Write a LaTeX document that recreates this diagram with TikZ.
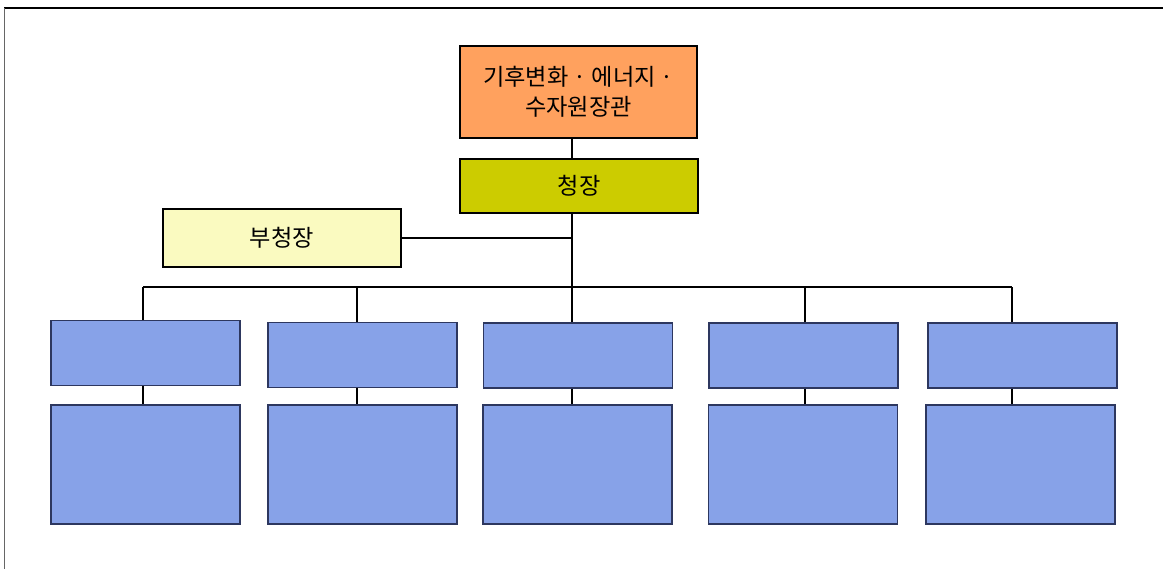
\documentclass[tikz,border=0pt]{standalone}
\usepackage{fontspec}
\usepackage{xcolor}
\usepackage{tikz}
\usetikzlibrary{positioning,calc}
\newfontfamily\kofont{Noto Sans CJK KR}
\definecolor{ministerorange}{RGB}{255,161,94}
\definecolor{chiefolive}{RGB}{204,204,0}
\definecolor{deputyyellow}{RGB}{250,250,192}
\definecolor{unitblue}{RGB}{135,162,232}
\definecolor{unitedge}{RGB}{45,55,95}

\begin{document}
\begin{tikzpicture}[
    x=0.02cm, y=-0.02cm,
    obox/.style={rectangle, draw, line width=0.7pt, font=\kofont\fontsize{13.2}{17}\selectfont, align=center},
    ubox/.style={obox, fill=unitblue, draw=unitedge, minimum width=3.78cm},
    link/.style={line width=0.8pt}
]
\useasboundingbox (0,0) rectangle (1163,569);
% page frame
\draw[line width=0.9pt] (4,8) -- (1163,8);
\draw[gray!80!black, line width=0.9pt] (4.5,8) -- (4.5,569);

\node[obox, fill=ministerorange, minimum width=4.74cm, minimum height=1.84cm] (minister) at (578.5,92) {기후변화 · 에너지 ·\\수자원장관};
\node[obox, fill=chiefolive, minimum width=4.76cm, minimum height=1.08cm] (chief) at (579,186) {청장};
\node[obox, fill=deputyyellow, minimum width=4.76cm, minimum height=1.16cm] (deputy) at (282,238) {부청장};

\coordinate (spine) at (572,287);
\draw[link] (spine |- minister.south) -- (spine |- chief.north);
\draw[link] (spine |- chief.south) -- (spine);
\draw[link] (deputy.east) -- (deputy.east -| spine);

% units and their sub boxes
\foreach \i/\ax/\ay/\bx/\dx in {1/145.5/353/145.5/143, 2/362.5/355/362.5/357, 3/578/355.5/577.5/572, 4/803.5/355.5/803/805, 5/1022.5/355.5/1020.5/1012}{
    \node[ubox, minimum height=1.30cm] (unit\i) at (\ax,\ay) {};
    \node[ubox, minimum height=2.38cm] (sub\i) at (\bx,464.5) {};
    \coordinate (bus\i) at (\dx,287);
    \draw[link] (bus\i) -- (bus\i |- unit\i.north);
    \draw[link] (bus\i |- unit\i.south) -- (bus\i |- sub\i.north);
}
\draw[link] (bus1) -- (bus5);
\end{tikzpicture}
\end{document}
